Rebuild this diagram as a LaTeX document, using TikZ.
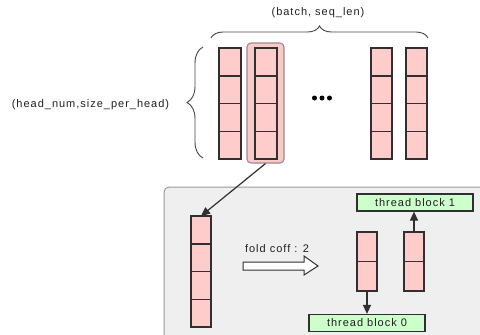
\documentclass[tikz,border=0pt]{standalone}
\usepackage{fontspec}
\newfontfamily\lblfont[LetterSpace=9]{Liberation Sans}
\usetikzlibrary{decorations.pathreplacing,arrows.meta}
\definecolor{pinkc}{HTML}{FFCCCC}
\definecolor{greenc}{HTML}{CCFFCC}
\definecolor{darkc}{HTML}{303030}
\definecolor{textc}{HTML}{202020}
\definecolor{boxfill}{HTML}{EFEFEF}
\definecolor{boxline}{HTML}{9A9A9A}
\definecolor{hlfill}{HTML}{F8CACA}
\definecolor{hlline}{HTML}{A08888}
\tikzset{
  cell/.style={draw=darkc, fill=pinkc, line width=1.5pt, inner sep=0pt, outer sep=0pt, anchor=north west},
  tblock/.style={draw=darkc, fill=greenc, line width=1.2pt, inner sep=0pt, minimum width=116pt, minimum height=17pt, text=textc, font=\lblfont\fontsize{11}{13}\selectfont},
  lbl/.style={text=textc, inner sep=0pt, font=\lblfont\fontsize{11}{13}\selectfont},
  conn/.style={draw=darkc, line width=1.2pt, -{Triangle[length=9pt,width=8pt]}},
  bracestyle/.style={draw=darkc!90, line width=0.9pt, decorate},
}
\newcommand{\pcol}[6]{%
  \foreach \k in {1,...,#5}{%
    \node[cell, minimum width=#4pt, minimum height=#6pt] (#1-\k) at (#2,{#3+(\k-1)*#6}) {};
  }%
}
\begin{document}
\begin{tikzpicture}[x=1pt,y=-1pt]
\clip (0,0) rectangle (480,335);
\fill[white] (0,0) rectangle (480,335);
% gray box
\draw[fill=boxfill, draw=boxline, line width=1pt, rounded corners=5pt] (164,187) rectangle (500,350);
% highlight
\node[draw=hlline, fill=hlfill, line width=1.1pt, rounded corners=4pt, minimum width=37pt, minimum height=120pt, inner sep=0pt] (hl) at (265.5,103) {};
% top columns
\pcol{ca}{219}{48}{22}{4}{27.75}
\pcol{cb}{255}{48}{22}{4}{27.75}
\pcol{cc}{371}{48}{21}{4}{27.75}
\pcol{cd}{406}{48}{21}{4}{27.75}
% dots
\foreach \dx [count=\i] in {314.5,322,329.5}{\node[circle, fill=black, inner sep=0pt, minimum size=5pt] (dot\i) at (\dx,98) {};}
% braces
\draw[bracestyle, decoration={brace, amplitude=12pt}] (211,38) -- (428,38);
\draw[bracestyle, decoration={brace, amplitude=16pt}] (203,158) -- (203,47);
\node[lbl] (batch) at (318,13) {(batch, seq\_len)};
\node[lbl] (head) at (90.5,105) {(head\_num,size\_per\_head)};
% small column
\pcol{s}{191}{216}{20}{4}{27.75}
\draw[conn] (hl.south) -- (s-1.north);
% fold text and hollow arrow
\node[lbl] (fold) at (277,249) {fold coff : 2};
\draw[draw=darkc, fill=white, line width=1pt] (243,262) -- (304,262) -- (304,256) -- (318,266) -- (304,275) -- (304,270) -- (243,270) -- cycle;
% folded columns
\pcol{A}{357}{232}{20}{2}{29.5}
\pcol{B}{404}{232}{20}{2}{29.5}
% thread blocks
\node[tblock] (tb1) at (415,202.5) {thread block 1};
\node[tblock] (tb0) at (367,323) {thread block 0};
\draw[conn] (A-2.south) -- (tb0.north);
\draw[conn] (B-1.north) -- (B-1.north |- tb1.south);
\end{tikzpicture}
\end{document}
